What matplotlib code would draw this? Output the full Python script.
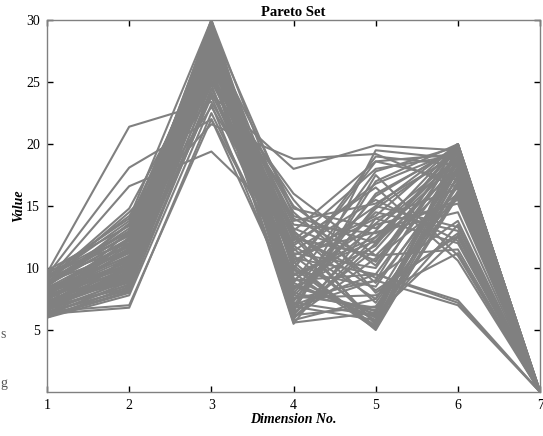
import matplotlib.pyplot as plt

# Giá trị từng chiều cho mỗi nghiệm trong tập Pareto
dims = [1, 2, 3, 4, 5, 6, 7]
dim1 = [9.6, 9.4, 9.0, 8.8, 9.2, 8.5, 7.0, 6.5, 6.2, 7.5, 8.0, 6.8, 8.2, 7.2, 6.0,
        6.3, 6.5, 9.7, 8.6, 7.8, 7.0, 6.6, 8.4, 7.4, 6.1, 9.1, 8.9, 7.6, 6.9, 8.1,
        7.3, 6.4, 9.5, 8.3, 7.1, 6.7, 7.9, 6.2, 8.7, 7.7, 6.0, 9.3, 8.0, 7.5, 6.8,
        8.9, 7.2, 6.5, 9.0, 8.4, 7.0, 6.3, 8.6, 7.8, 6.6, 9.8, 7.4, 8.2, 6.9, 8.0,
        7.6, 8.8, 6.4, 9.2, 7.3, 8.5, 6.7, 8.1, 7.9, 6.2, 9.4, 7.1, 8.3, 6.9, 8.7]
dim2 = [21.4, 18.1, 16.6, 14.5, 14.2, 13.5, 13.0, 12.5, 11.0, 11.5, 10.5, 10.0, 9.5, 9.0, 8.5,
        6.8, 7.0, 12.0, 12.8, 11.8, 10.8, 9.8, 10.2, 8.8, 8.0, 13.8, 11.3, 10.6, 9.3, 12.2,
        9.6, 8.3, 14.0, 10.9, 10.1, 8.6, 11.6, 8.9, 13.2, 9.9, 7.8, 12.6, 11.0, 10.4, 9.2,
        13.0, 10.7, 8.2, 14.8, 11.9, 9.4, 8.7, 12.4, 10.3, 9.0, 13.4, 11.4, 10.0, 8.4, 12.0,
        10.2, 12.7, 9.1, 11.7, 10.0, 13.6, 9.7, 11.2, 10.8, 8.1, 12.9, 9.5, 11.5, 9.9, 12.3]
dim3 = [23.4, 22.0, 19.4, 21.6, 24.0, 25.5, 26.5, 27.5, 28.5, 29.8, 30.0, 29.0, 28.0, 27.0, 26.0,
        22.5, 22.0, 25.0, 23.0, 26.0, 28.8, 29.5, 27.8, 25.8, 24.5, 28.2, 29.2, 26.8, 24.8, 27.2,
        29.6, 27.6, 30.0, 28.4, 25.2, 23.8, 29.9, 28.6, 27.4, 26.2, 23.2, 29.4, 26.6, 28.9, 27.9,
        25.6, 29.1, 26.4, 27.0, 30.0, 28.0, 25.0, 29.7, 27.3, 24.2, 28.7, 26.9, 29.3, 27.7, 28.3,
        28.1, 26.3, 29.0, 27.5, 25.4, 28.6, 26.7, 29.5, 27.1, 24.0, 28.8, 26.1, 29.9, 27.4, 25.9]
dim4 = [11.8, 9.5, 13.0, 18.8, 18.0, 15.5, 14.0, 12.5, 7.0, 6.0, 8.5, 10.0, 6.5, 11.0, 5.5,
        9.0, 7.5, 16.0, 12.0, 8.0, 6.8, 7.8, 9.2, 6.2, 10.5, 11.2, 5.8, 13.5, 8.2, 7.2,
        9.8, 6.4, 12.8, 6.6, 10.8, 8.8, 7.4, 11.6, 9.4, 14.5, 7.0, 8.0, 12.2, 6.0, 10.2,
        7.6, 9.0, 5.6, 11.4, 6.9, 8.4, 13.0, 10.0, 6.2, 9.6, 7.3, 12.6, 5.9, 8.6, 11.0,
        14.8, 13.8, 12.4, 10.6, 15.0, 9.9, 11.8, 14.2, 7.8, 12.9, 8.8, 13.2, 10.4, 6.5, 11.1]
dim5 = [7.5, 12.5, 18.6, 19.2, 19.9, 8.0, 10.5, 5.5, 15.0, 12.0, 6.5, 5.2, 17.5, 6.0, 14.0,
        9.5, 9.0, 11.0, 16.5, 14.5, 9.0, 6.8, 5.8, 13.0, 5.0, 10.0, 7.5, 12.8, 15.8, 6.2,
        8.5, 11.5, 5.4, 17.0, 9.5, 6.0, 14.8, 5.6, 12.2, 8.8, 9.5, 6.6, 18.0, 10.8, 5.3,
        7.8, 13.6, 6.4, 15.5, 5.8, 11.8, 7.2, 19.0, 6.9, 5.1, 16.0, 9.2, 12.5, 6.3, 14.2,
        13.2, 15.2, 11.0, 14.0, 10.2, 18.6, 16.8, 12.0, 13.5, 8.2, 17.8, 10.6, 15.0, 19.5, 12.9]
dim6 = [16.0, 18.5, 19.2, 16.5, 19.5, 12.8, 19.8, 17.5, 13.3, 20.0, 18.8, 15.8, 11.0, 19.0, 12.0,
        7.2, 7.0, 11.5, 10.6, 13.0, 19.6, 18.0, 17.0, 20.0, 16.2, 19.3, 18.2, 15.5, 19.8, 12.5,
        17.8, 19.0, 16.8, 20.0, 18.4, 13.5, 19.4, 15.9, 19.7, 17.2, 7.4, 18.6, 19.1, 16.0, 19.9,
        11.2, 18.9, 17.4, 12.2, 19.5, 20.0, 16.6, 18.3, 15.7, 18.1, 19.6, 13.8, 19.0, 17.9, 20.0,
        18.7, 19.2, 17.6, 16.4, 19.9, 17.1, 19.5, 18.0, 15.2, 12.6, 19.8, 18.5, 20.0, 18.8, 14.5]
dim7 = [0.0] * len(dim1)

plt.rcParams['font.family'] = ['Liberation Serif', 'DejaVu Serif']

fig = plt.figure(figsize=(5.43, 4.36), dpi=100)
ax = fig.add_axes([0.0866, 0.1009, 0.908, 0.853])

for i in range(len(dim1)):
    vals = [dim1[i], dim2[i], dim3[i], dim4[i], dim5[i], dim6[i], dim7[i]]
    ax.plot(dims, vals, color='#808080', lw=1.5)

ax.set_xlim(1, 7)
ax.set_ylim(0, 30)
ax.set_xticks(dims)
ax.set_yticks([5, 10, 15, 20, 25, 30])
ax.tick_params(direction='in', length=4, width=1, labelsize=10, top=True, right=True,
               colors='black', pad=5)
for s in ax.spines.values():
    s.set_color('#808080')
    s.set_linewidth(1)

ax.set_title('Pareto Set', fontsize=10.5, fontweight='bold', pad=3)
ax.set_xlabel('Dimension No.', fontsize=10, fontweight='bold', style='italic', labelpad=1)
ax.set_ylabel('Value', fontsize=10, fontweight='bold', style='italic', labelpad=1)

# Ký tự ở mép trái
fig.text(0.0, 0.225, 's', fontsize=10, color='#555555')
fig.text(0.0, 0.112, 'g', fontsize=10, color='#555555')

fig.savefig('out.png', dpi=100)
